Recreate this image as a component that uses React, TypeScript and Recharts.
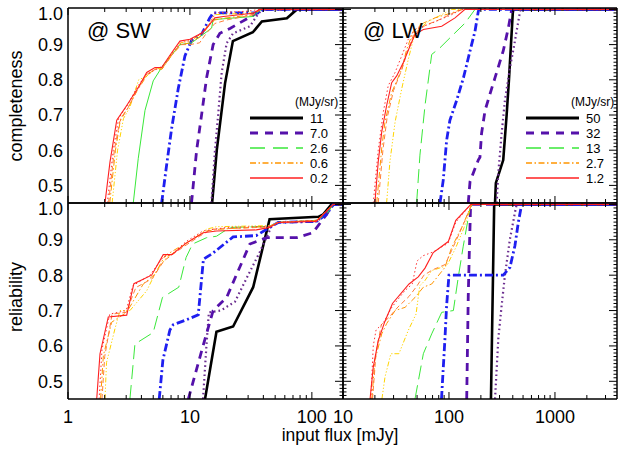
import React from 'react';
import { LineChart, Line, XAxis, YAxis, Legend } from 'recharts';

type Pt = { x: number; y: number };
const P = (arr: number[][]): Pt[] => arr.map(([x, y]) => ({ x, y }));

// ---------- tick labels ----------
const SW_X_TICKS = [1, 10, 100];
const LW_X_TICKS = [10, 100, 1000];
const SW_X_MINOR = [2, 3, 4, 5, 6, 7, 8, 9, 20, 30, 40, 50, 60, 70, 80, 90];
const LW_X_MINOR = [20, 30, 40, 50, 60, 70, 80, 90, 200, 300, 400, 500, 600, 700, 800, 900, 2000, 3000];
const Y_TICKS = [0.5, 0.6, 0.7, 0.8, 0.9, 1.0];
const Y_MINOR: number[] = [];
for (let i = 46; i <= 99; i++) if (i % 10 !== 0) Y_MINOR.push(i / 100);

const SW_LEGEND = ['11', '7.0', '2.6', '0.6', '0.2'];
const LW_LEGEND = ['50', '32', '13', '2.7', '1.2'];

// ---------- SW completeness ----------
const swC_black = P([[15.2,0.45],[16.6,0.6],[19.4,0.79],[22.5,0.91],[32.8,0.935],[38.9,0.966],[62.4,0.975],[75.3,1.0],[180,1.0]]);
const swC_purpleDot = P([[15.0,0.45],[16.0,0.594],[17.1,0.707],[18.2,0.82],[20.0,0.904],[22.6,0.932],[31.0,0.952],[36.1,0.986],[38.9,1.0],[180,1.0]]);
const swC_purpleDash = P([[10.3,0.45],[11.35,0.6],[12.5,0.704],[13.7,0.806],[15.5,0.9],[17.6,0.932],[21.3,0.946],[35.2,0.989],[38,1.0],[180,1.0]]);
const swC_blue = P([[5.86,0.45],[6.44,0.558],[7.08,0.662],[8.02,0.775],[9.1,0.868],[10.3,0.912],[12.5,0.93],[14.5,0.975],[15.5,0.99],[37,0.99],[40,1.0],[180,1.0]]);
const swC_green = P([[3.43,0.45],[3.77,0.577],[4.28,0.713],[5.0,0.797],[5.86,0.835],[8.28,0.9],[10.3,0.905],[12.85,0.929],[15.06,0.947],[15.5,0.971],[33,0.98],[36.3,0.994],[38.9,1.0],[180,1.0]]);
const swC_yellow = P([[2.3,0.45],[2.55,0.6],[2.85,0.69],[3.2,0.72],[3.8,0.8],[4.4,0.81],[5.2,0.83],[6.0,0.835],[7.2,0.875],[8.4,0.905],[10,0.91],[12.5,0.93],[14.5,0.96],[16,0.985],[33,0.99],[37,1.0],[180,1.0]]);
const swC_orange = P([[2.2,0.45],[2.45,0.6],[2.7,0.69],[3.1,0.72],[3.7,0.77],[4.4,0.81],[5.1,0.83],[5.9,0.83],[7.1,0.87],[8.5,0.9],[10,0.905],[12.5,0.925],[14.3,0.955],[16,0.97],[19,0.975],[33,0.985],[38,1.0],[180,1.0]]);
const swC_orangeDash = P([[2.15,0.45],[2.4,0.6],[2.65,0.68],[3.1,0.72],[3.75,0.775],[4.4,0.815],[5.2,0.83],[6.0,0.835],[7.1,0.87],[8.3,0.9],[10,0.9],[12,0.905],[13.5,0.93],[16,0.96],[20,0.97],[33,0.985],[38,1.0],[180,1.0]]);
const swC_redDot = P([[2.1,0.45],[2.35,0.6],[2.6,0.69],[3.1,0.73],[3.7,0.78],[4.4,0.815],[5.3,0.83],[6.0,0.84],[7.1,0.875],[8.4,0.905],[10,0.912],[12.3,0.93],[14.5,0.96],[16,0.99],[30,0.995],[37,1.0],[180,1.0]]);
const swC_red = P([[2.01,0.45],[2.21,0.567],[2.51,0.685],[3.03,0.727],[3.77,0.778],[4.42,0.821],[5.17,0.835],[5.86,0.835],[7.08,0.877],[8.28,0.91],[10,0.915],[12.5,0.933],[14.1,0.952],[16,0.976],[18.8,0.98],[32.8,0.989],[37.5,1.0],[180,1.0]]);

// ---------- LW completeness ----------
const lwC_black = P([[272,0.45],[277,0.507],[325,0.572],[350,0.7],[368,0.8],[400,0.99],[405,1.0],[3850,1.0]]);
const lwC_purpleDot = P([[282,0.45],[292,0.535],[314,0.648],[337,0.741],[376,0.834],[419,0.91],[468,0.994],[475,1.0],[3850,1.0]]);
const lwC_purpleDash = P([[152,0.45],[158,0.511],[189,0.572],[196,0.58],[203,0.648],[219,0.713],[244,0.76],[272,0.806],[325,0.882],[363,0.947],[391,1.0],[3850,1.0]]);
const lwC_blue = P([[82.3,0.45],[88.3,0.515],[95,0.628],[102,0.685],[118,0.741],[137,0.806],[158,0.882],[176,0.938],[189,0.994],[192,1.0],[3850,1.0]]);
const lwC_green = P([[49.5,0.45],[53.2,0.586],[59.4,0.727],[68.7,0.872],[82.3,0.891],[106,0.924],[141.6,0.961],[176,1.0],[3850,1.0]]);
const lwC_yellow = P([[25.8,0.45],[27.7,0.567],[31,0.68],[35.8,0.774],[41.3,0.858],[47.8,0.934],[63.8,0.966],[79.3,0.98],[106,1.0],[3850,1.0]]);
const lwC_orange = P([[20.8,0.45],[23.2,0.606],[24.9,0.68],[28.8,0.764],[35.8,0.83],[39.9,0.886],[46,0.938],[57.3,0.961],[73.8,0.976],[106,0.99],[131,1.0],[3850,1.0]]);
const lwC_orangeDash = P([[21.5,0.45],[23.8,0.6],[26,0.69],[30,0.77],[36,0.83],[40.5,0.88],[46.5,0.93],[60,0.955],[80,0.97],[110,0.99],[135,1.0],[3850,1.0]]);
const lwC_redDot = P([[19.3,0.45],[21.5,0.6],[24.0,0.708],[26.7,0.783],[31,0.821],[35.8,0.868],[41.3,0.915],[47.8,0.943],[68.7,0.961],[106,0.985],[131,1.0],[3850,1.0]]);
const lwC_red = P([[20.0,0.45],[21.5,0.567],[23.2,0.652],[25.8,0.727],[28.8,0.792],[32.1,0.811],[37.1,0.849],[42.9,0.896],[47.8,0.929],[57.3,0.943],[85.4,0.952],[114,0.976],[141.6,1.0],[3850,1.0]]);

// ---------- SW reliability ----------
const swR_black = P([[13.3,0.45],[16.5,0.64],[22.6,0.655],[33,0.766],[45,0.958],[113,0.965],[124,0.972],[145,1.0],[180,1.0]]);
const swR_purpleDot = P([[12.8,0.45],[13.65,0.599],[14.3,0.695],[17.9,0.7],[23.4,0.725],[30,0.8],[37.5,0.866],[47,0.94],[52.6,0.949],[109,0.952],[132,0.972],[148,1.0],[180,1.0]]);
const swR_purpleDash = P([[9.7,0.45],[12.8,0.6],[15.5,0.7],[20,0.737],[24,0.8],[31,0.888],[42.5,0.906],[75,0.906],[102,0.92],[132,0.972],[150,1.0],[180,1.0]]);
const swR_blue = P([[5.6,0.45],[6.0,0.56],[6.85,0.645],[7.3,0.66],[9.4,0.674],[11.7,0.688],[12.9,0.845],[15.4,0.862],[22.6,0.908],[35,0.912],[46.7,0.938],[53,0.949],[109,0.952],[132,0.972],[150,1.0],[180,1.0]]);
const swR_green = P([[3.22,0.45],[3.54,0.606],[3.8,0.612],[5.0,0.638],[5.95,0.737],[8.1,0.766],[9.3,0.85],[10.5,0.888],[13.7,0.906],[16.5,0.91],[21.3,0.935],[45,0.938],[53,0.949],[109,0.955],[132,0.972],[150,1.0],[180,1.0]]);
const swR_yellow = P([[2.01,0.45],[2.07,0.553],[2.43,0.649],[2.67,0.7],[3.22,0.7],[4.42,0.756],[5.33,0.813],[6.44,0.85],[8.02,0.874],[10.6,0.902],[13.7,0.93],[16.5,0.937],[45,0.94],[53,0.949],[109,0.955],[124,0.972],[150,1.0],[180,1.0]]);
const swR_orange = P([[1.85,0.45],[1.95,0.573],[2.28,0.667],[3.03,0.695],[4.14,0.775],[5.17,0.803],[6.24,0.855],[9.4,0.892],[13.7,0.925],[17.6,0.93],[45,0.938],[53,0.949],[109,0.955],[124,0.972],[150,1.0],[180,1.0]]);
const swR_orangeDash = P([[1.9,0.45],[2.0,0.57],[2.3,0.69],[3.0,0.695],[3.6,0.765],[4.9,0.79],[6.1,0.84],[7.3,0.86],[9.3,0.885],[12,0.91],[15,0.93],[45,0.936],[53,0.949],[109,0.955],[124,0.972],[150,1.0],[180,1.0]]);
const swR_redDot = P([[1.8,0.45],[1.9,0.59],[2.2,0.69],[3.0,0.7],[3.4,0.77],[4.7,0.8],[6.0,0.85],[7.2,0.86],[9.3,0.895],[12.8,0.925],[20,0.935],[45,0.938],[53,0.949],[109,0.955],[124,0.972],[150,1.0],[180,1.0]]);
const swR_red = P([[1.72,0.45],[1.83,0.578],[2.14,0.682],[3.03,0.687],[3.47,0.776],[4.85,0.8],[6.04,0.858],[7.08,0.858],[9.27,0.89],[11,0.906],[12.85,0.92],[16.5,0.925],[35,0.928],[45,0.935],[53,0.949],[109,0.952],[124,0.972],[150,1.0],[180,1.0]]);

// ---------- LW reliability ----------
const lwR_black = P([[249,0.45],[267,1.0],[3850,1.0]]);
const lwR_purpleDot = P([[272,0.45],[292,0.62],[314,0.714],[337,0.799],[376,0.902],[419,0.977],[435,1.0],[3850,1.0]]);
const lwR_purpleDash = P([[147,0.45],[152,0.74],[156,0.88],[160,1.0],[3850,1.0]]);
const lwR_blue = P([[85,0.45],[91.6,0.62],[95,0.714],[100,0.8],[325,0.8],[376,0.822],[419,0.883],[451,0.949],[485,1.0],[3850,1.0]]);
const lwR_green = P([[47.8,0.45],[57.3,0.578],[68.7,0.634],[85.4,0.695],[110,0.7],[122.5,0.795],[136,0.88],[158,0.99],[168,1.0],[3850,1.0]]);
const lwR_yellow = P([[23.3,0.45],[24.9,0.512],[28.3,0.578],[33.7,0.578],[41.3,0.644],[48.9,0.69],[53,0.77],[59.4,0.785],[68.7,0.813],[95.7,0.827],[116,0.878],[139,0.935],[164,1.0],[3850,1.0]]);
const lwR_orange = P([[18.7,0.45],[20.0,0.56],[23.2,0.634],[25.8,0.663],[31.0,0.7],[38.5,0.709],[47.8,0.737],[57.3,0.766],[68.7,0.775],[91.6,0.822],[106,0.878],[132,0.935],[164,1.0],[3850,1.0]]);
const lwR_orangeDash = P([[19,0.45],[20.5,0.58],[23,0.66],[27,0.68],[33,0.71],[42,0.74],[50,0.77],[58,0.8],[70,0.815],[92,0.83],[106,0.87],[135,0.94],[164,1.0],[3850,1.0]]);
const lwR_redDot = P([[18.3,0.45],[19.3,0.6],[20.5,0.645],[24,0.665],[29,0.71],[38,0.755],[45,0.775],[50,0.84],[57,0.855],[70,0.865],[98,0.89],[116,0.95],[161,1.0],[3850,1.0]]);
const lwR_red = P([[18,0.45],[19.3,0.54],[21.5,0.615],[24.9,0.67],[29.3,0.72],[42,0.775],[51.3,0.795],[59.4,0.82],[71,0.864],[98.5,0.895],[116,0.955],[161,1.0],[3850,1.0]]);

// ---------- styles ----------
type Sty = { stroke: string; w: number; dash?: string };
const STY: Record<string, Sty> = {
  black: { stroke: '#000000', w: 2.6 },
  purpleDot: { stroke: '#6b2d8f', w: 2.2, dash: '1.6 3' },
  purpleDash: { stroke: '#5511aa', w: 2.8, dash: '8 6' },
  blue: { stroke: '#1f1ff0', w: 2.8, dash: '8 3 2 3' },
  green: { stroke: '#3ae83a', w: 1, dash: '14 6' },
  greenSolid: { stroke: '#3ae83a', w: 1 },
  yellow: { stroke: '#ffd400', w: 1, dash: '5 2 1.2 2 1.2 2 1.2 2' },
  orange: { stroke: '#ff9500', w: 1, dash: '6 2.5 1.5 2.5' },
  orangeDash: { stroke: '#ff7f3a', w: 1, dash: '5 3' },
  redDot: { stroke: '#ff3333', w: 1, dash: '1.5 2.5' },
  red: { stroke: '#ff2020', w: 1.1 },
};
const LEGEND_STY = ['black', 'purpleDash', 'green', 'orange', 'red'];

const FONT = "'Liberation Sans', Arial, Helvetica, sans-serif";
const W = 618;
const H = 449;

type Box = { left: number; top: number; width: number; height: number };
type Ser = { key: string; data: Pt[] };

const isIn = (arr: number[], v: number) => arr.some((m) => Math.abs(m - v) < 1e-9);

// Tick renderer: draws an inward tick line (longer for majors) and, optionally, the label.
function makeTick(orient: 'bottom' | 'top' | 'left' | 'right', majors: number[], label: boolean, lines: boolean) {
  return (props: any) => {
    const { x, y, payload } = props;
    const v = payload.value as number;
    const major = isIn(majors, v);
    const horiz = orient === 'bottom' || orient === 'top';
    const len = horiz ? (major ? 7 : 4) : major ? 8 : 3.5;
    let x2 = x, y2 = y;
    if (orient === 'bottom') y2 = y - len;
    if (orient === 'top') y2 = y + len;
    if (orient === 'left') x2 = x + len;
    if (orient === 'right') x2 = x - len;
    return (
      <g>
        {lines ? <line x1={x} y1={y} x2={x2} y2={y2} stroke="#000" strokeWidth={1} /> : null}
        {label && major && orient === 'bottom' ? (
          <text x={x} y={y + 11} dy="0.71em" textAnchor="middle" fontSize={18} fontFamily={FONT} fill="#000">
            {String(v)}
          </text>
        ) : null}
        {label && major && orient === 'left' ? (
          <text x={x - 5} y={y + (v > 0.999 ? 4 : 0)} dy="0.36em" textAnchor="end" fontSize={18} fontFamily={FONT} fill="#000">
            {v.toFixed(1)}
          </text>
        ) : null}
      </g>
    );
  };
}

function LegendBox({ labels }: { labels: string[] }) {
  const rows = [26, 41, 56, 71, 86];
  return (
    <svg width={100} height={95} style={{ overflow: 'visible' }}>
      <text x={50} y={14} fontSize={12} fontFamily={FONT} fill="#000">(MJy/sr)</text>
      {labels.map((lab, i) => {
        const s = STY[LEGEND_STY[i]];
        const lw = s.w > 2 ? 3 : 1.3;
        const dash = LEGEND_STY[i] === 'purpleDash' ? '8 7' : LEGEND_STY[i] === 'green' ? '15 8' : s.dash;
        return (
          <g key={lab}>
            <line x1={5} x2={58} y1={rows[i]} y2={rows[i]} stroke={s.stroke} strokeWidth={lw} strokeDasharray={dash} />
            <text x={65} y={rows[i] + 4.5} fontSize={13} fontFamily={FONT} fill="#000">{lab}</text>
          </g>
        );
      })}
    </svg>
  );
}

function Panel(props: {
  box: Box;
  xDomain: [number, number];
  xMajor: number[];
  xMinor: number[];
  showX: boolean;
  showY: boolean;
  series: Ser[];
  legend?: { left: number; top: number; labels: string[] };
}) {
  const { box, xDomain, xMajor, xMinor, showX, showY, series, legend } = props;
  // each axis takes 1px of room, so the margins are reduced by 1 to keep the plot box exact
  const margin = {
    left: box.left - 1,
    top: box.top - 1,
    right: W - box.left - box.width - 1,
    bottom: H - box.top - box.height - 1,
  };
  const yDomain: [number, number] = [0.45, 1.004];
  const frame = { stroke: '#000', strokeWidth: 1.5 };
  const xAll = [...xMajor, ...xMinor];
  const yAll = [...Y_TICKS, ...Y_MINOR];
  return (
    <div style={{ position: 'absolute', left: 0, top: 0, pointerEvents: 'none' }}>
      <LineChart width={W} height={H} margin={margin}>
        <XAxis xAxisId="b" type="number" dataKey="x" scale="log" domain={xDomain} allowDataOverflow ticks={xAll} interval={0}
          orientation="bottom" height={1} tickSize={0} tickMargin={0} tickLine={false} axisLine={frame}
          tick={makeTick('bottom', xMajor, showX, true)} />
        <XAxis xAxisId="t" type="number" dataKey="x" scale="log" domain={xDomain} allowDataOverflow ticks={xAll} interval={0}
          orientation="top" height={1} tickSize={0} tickMargin={0} tickLine={false} axisLine={frame}
          tick={makeTick('top', xMajor, false, true)} />
        <YAxis yAxisId="l" type="number" domain={yDomain} allowDataOverflow ticks={yAll} interval={0}
          orientation="left" width={1} tickSize={0} tickMargin={0} tickLine={false} axisLine={frame}
          tick={makeTick('left', Y_TICKS, showY, !showY)} />
        <YAxis yAxisId="r" type="number" domain={yDomain} allowDataOverflow ticks={yAll} interval={0}
          orientation="right" width={1} tickSize={0} tickMargin={0} tickLine={false} axisLine={frame}
          tick={makeTick('right', Y_TICKS, false, true)} />
        {series.map((s) => {
          const st = STY[s.key];
          return (
            <Line key={s.key} data={s.data} dataKey="y" xAxisId="b" yAxisId="l" type="linear"
              stroke={st.stroke} strokeWidth={st.w} strokeDasharray={st.dash} dot={false}
              activeDot={false} isAnimationActive={false} />
          );
        })}
        {legend ? (
          <Legend layout="horizontal" verticalAlign="middle" align="center"
            wrapperStyle={{ left: legend.left, top: legend.top, width: 100, height: 95 }}
            content={() => <LegendBox labels={legend.labels} />} />
        ) : null}
      </LineChart>
    </div>
  );
}

const SW_BOX_TOP: Box = { left: 68, top: 8, width: 275, height: 195 };
const LW_BOX_TOP: Box = { left: 343, top: 8, width: 274, height: 195 };
const SW_BOX_BOT: Box = { left: 68, top: 203, width: 275, height: 196 };
const LW_BOX_BOT: Box = { left: 343, top: 203, width: 274, height: 196 };

export default function App() {
  const swC: Ser[] = [
    { key: 'black', data: swC_black }, { key: 'purpleDot', data: swC_purpleDot }, { key: 'purpleDash', data: swC_purpleDash },
    { key: 'blue', data: swC_blue }, { key: 'greenSolid', data: swC_green }, { key: 'yellow', data: swC_yellow },
    { key: 'orange', data: swC_orange }, { key: 'orangeDash', data: swC_orangeDash }, { key: 'redDot', data: swC_redDot },
    { key: 'red', data: swC_red },
  ];
  const lwC: Ser[] = [
    { key: 'black', data: lwC_black }, { key: 'purpleDot', data: lwC_purpleDot }, { key: 'purpleDash', data: lwC_purpleDash },
    { key: 'blue', data: lwC_blue }, { key: 'green', data: lwC_green }, { key: 'yellow', data: lwC_yellow },
    { key: 'orange', data: lwC_orange }, { key: 'orangeDash', data: lwC_orangeDash }, { key: 'redDot', data: lwC_redDot },
    { key: 'red', data: lwC_red },
  ];
  const swR: Ser[] = [
    { key: 'black', data: swR_black }, { key: 'purpleDot', data: swR_purpleDot }, { key: 'purpleDash', data: swR_purpleDash },
    { key: 'blue', data: swR_blue }, { key: 'green', data: swR_green }, { key: 'yellow', data: swR_yellow },
    { key: 'orange', data: swR_orange }, { key: 'orangeDash', data: swR_orangeDash }, { key: 'redDot', data: swR_redDot },
    { key: 'red', data: swR_red },
  ];
  const lwR: Ser[] = [
    { key: 'black', data: lwR_black }, { key: 'purpleDot', data: lwR_purpleDot }, { key: 'purpleDash', data: lwR_purpleDash },
    { key: 'blue', data: lwR_blue }, { key: 'green', data: lwR_green }, { key: 'yellow', data: lwR_yellow },
    { key: 'orange', data: lwR_orange }, { key: 'orangeDash', data: lwR_orangeDash }, { key: 'redDot', data: lwR_redDot },
    { key: 'red', data: lwR_red },
  ];
  return (
    <div style={{ position: 'absolute', left: 0, top: 0, width: W, height: H, background: '#fff', overflow: 'hidden' }}>
      <Panel box={SW_BOX_TOP} xDomain={[1, 180]} xMajor={SW_X_TICKS} xMinor={SW_X_MINOR} showX={false} showY series={swC}
        legend={{ left: 245, top: 92, labels: SW_LEGEND }} />
      <Panel box={LW_BOX_TOP} xDomain={[10, 3850]} xMajor={LW_X_TICKS} xMinor={LW_X_MINOR} showX={false} showY={false} series={lwC}
        legend={{ left: 521, top: 92, labels: LW_LEGEND }} />
      <Panel box={SW_BOX_BOT} xDomain={[1, 180]} xMajor={SW_X_TICKS} xMinor={SW_X_MINOR} showX showY series={swR} />
      <Panel box={LW_BOX_BOT} xDomain={[10, 3850]} xMajor={LW_X_TICKS} xMinor={LW_X_MINOR} showX showY={false} series={lwR} />
      <svg width={W} height={H} style={{ position: 'absolute', left: 0, top: 0, pointerEvents: 'none' }}>
        <text x={87} y={38} fontSize={22} fontFamily={FONT} fill="#000">@ SW</text>
        <text x={363} y={38} fontSize={22} fontFamily={FONT} fill="#000">@ LW</text>
        <text transform="translate(22,106) rotate(-90)" textAnchor="middle" fontSize={18} fontFamily={FONT} fill="#000">completeness</text>
        <text transform="translate(22,297) rotate(-90)" textAnchor="middle" fontSize={18} fontFamily={FONT} fill="#000">reliability</text>
        <text x={340} y={441} textAnchor="middle" fontSize={17.5} fontFamily={FONT} fill="#000">input flux [mJy]</text>
      </svg>
    </div>
  );
}
